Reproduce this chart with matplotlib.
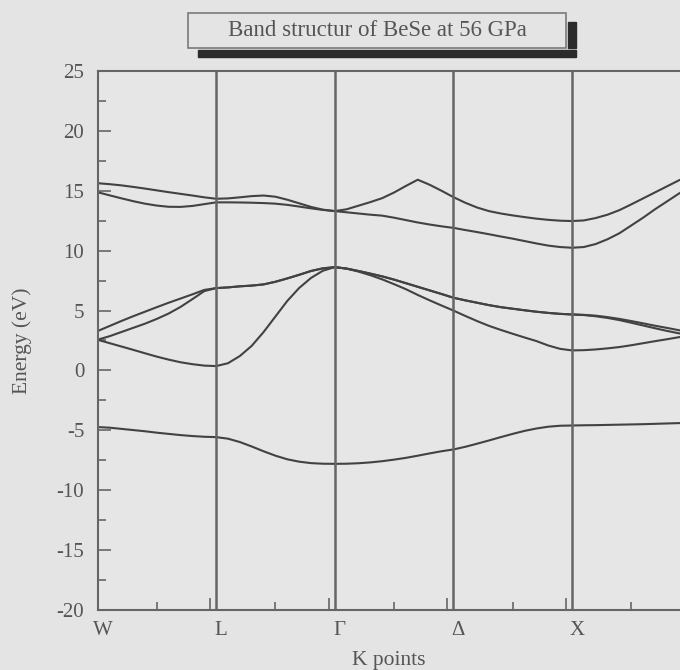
import numpy as np
import matplotlib
matplotlib.use("Agg")
import matplotlib.pyplot as plt
from matplotlib.patches import Rectangle
from matplotlib.transforms import ScaledTranslation

plt.rcParams['font.family'] = ['Liberation Serif', 'DejaVu Serif']
plt.rcParams['axes.unicode_minus'] = False

# k path: W=0, L=1, Gamma=2, Delta=3, X=4 (read every 0.1)
k = np.round(np.arange(0, 5.01, 0.1), 2)
kpoints = [0, 1, 2, 3, 4]
klabels = ['W', 'L', 'Γ', 'Δ', 'X']

# energies (eV)
band_s = [-4.73, -4.78, -4.88, -4.98, -5.08, -5.20, -5.30, -5.40, -5.48, -5.54,
          -5.57, -5.70, -5.98, -6.35, -6.75, -7.12, -7.42, -7.62, -7.74, -7.79,
          -7.80, -7.79, -7.75, -7.68, -7.58, -7.45, -7.30, -7.12, -6.93, -6.75,
          -6.60, -6.38, -6.12, -5.85, -5.57, -5.30, -5.05, -4.85, -4.70, -4.62,
          -4.60, -4.58, -4.57, -4.55, -4.53, -4.51, -4.49, -4.46, -4.43, -4.40, -4.38]

band_c = [2.56, 2.28, 2.00, 1.72, 1.43, 1.15, 0.90, 0.68, 0.52, 0.40,
          0.36, 0.60, 1.20, 2.05, 3.20, 4.50, 5.80, 6.88, 7.72, 8.32,
          8.62, 8.50, 8.25, 7.95, 7.60, 7.20, 6.78, 6.30, 5.85, 5.42,
          5.00, 4.55, 4.12, 3.72, 3.38, 3.06, 2.75, 2.45, 2.08, 1.80,
          1.67, 1.69, 1.75, 1.84, 1.95, 2.10, 2.27, 2.44, 2.60, 2.77, 2.93]

band_b = [2.56, 2.85, 3.20, 3.55, 3.90, 4.30, 4.75, 5.30, 5.95, 6.62,
          6.87, 6.93, 7.02, 7.08, 7.18, 7.40, 7.68, 7.98, 8.30, 8.52,
          8.62, 8.50, 8.30, 8.08, 7.85, 7.58, 7.28, 6.98, 6.68, 6.38,
          6.07, 5.85, 5.65, 5.45, 5.28, 5.15, 5.02, 4.90, 4.80, 4.72,
          4.67, 4.62, 4.52, 4.38, 4.20, 3.98, 3.75, 3.52, 3.30, 3.10, 2.90]

band_a = [3.28, 3.70, 4.12, 4.52, 4.90, 5.28, 5.65, 6.00, 6.35, 6.72,
          6.87, 6.93, 7.02, 7.08, 7.18, 7.40, 7.68, 7.98, 8.30, 8.52,
          8.62, 8.50, 8.30, 8.08, 7.85, 7.58, 7.28, 6.98, 6.68, 6.38,
          6.07, 5.85, 5.65, 5.45, 5.28, 5.15, 5.02, 4.90, 4.80, 4.72,
          4.67, 4.64, 4.57, 4.45, 4.30, 4.12, 3.93, 3.73, 3.55, 3.36, 3.18]

band_g = [14.88, 14.62, 14.37, 14.13, 13.92, 13.76, 13.66, 13.65, 13.73, 13.88,
          14.03, 14.03, 14.02, 14.00, 13.97, 13.92, 13.82, 13.68, 13.53, 13.40,
          13.30, 13.20, 13.10, 13.00, 12.92, 12.75, 12.55, 12.35, 12.18, 12.03,
          11.90, 11.72, 11.55, 11.37, 11.18, 11.00, 10.80, 10.60, 10.42, 10.30,
          10.24, 10.30, 10.55, 10.95, 11.45, 12.10, 12.75, 13.45, 14.10, 14.75, 15.35]

band_f = [15.63, 15.55, 15.45, 15.32, 15.18, 15.03, 14.88, 14.74, 14.60, 14.45,
          14.33, 14.36, 14.45, 14.55, 14.60, 14.50, 14.25, 13.95, 13.65, 13.42,
          13.30, 13.45, 13.75, 14.05, 14.38, 14.85, 15.40, 15.92, 15.50, 15.00,
          14.47, 14.00, 13.60, 13.30, 13.10, 12.94, 12.80, 12.67, 12.57, 12.50,
          12.47, 12.52, 12.72, 13.00, 13.38, 13.86, 14.36, 14.86, 15.36, 15.86, 16.30]

bands = [band_s, band_c, band_b, band_a, band_g, band_f]

bg = '#e4e4e4'
ink = '#424242'
txt = '#555555'

fig = plt.figure(figsize=(6.8, 6.7), dpi=100, facecolor=bg)
ax = fig.add_axes([0.1434, 0.0896, 0.8566, 0.8045])
ax.set_facecolor('#e6e6e6')

for b in bands:
    ax.plot(k, b, color=ink, lw=1.5, solid_joinstyle='round')

for kp in kpoints[1:]:
    ax.axvline(kp, color='#666666', lw=1.8)

ax.set_xlim(0, 4.911)
ax.set_ylim(-20, 25)

for s in ['left', 'bottom', 'top']:
    ax.spines[s].set_color('#666666')
    ax.spines[s].set_linewidth(1.5)
ax.spines['right'].set_visible(False)

ax.set_yticks(np.arange(-20, 26, 5))
ax.set_yticks(np.arange(-17.5, 25, 5), minor=True)
ax.set_xticks(kpoints)
ax.set_xticklabels(klabels)
ax.set_xticks([0.5, 1.5, 2.5, 3.5, 4.5], minor=True)
ax.tick_params(axis='y', which='major', direction='in', length=9, width=1.2,
               color='#666666', labelsize=15, labelcolor=txt, pad=9.5)
ax.tick_params(axis='y', which='minor', direction='in', length=6, width=1.2,
               color='#666666')
ax.tick_params(axis='x', which='major', direction='in', length=0,
               labelsize=15, labelcolor=txt, pad=8)
ax.tick_params(axis='x', which='minor', direction='in', length=6, width=1.2,
               color='#666666')
# the k labels sit a little right of their lines in the original
shift = ScaledTranslation(5 / 100, 0, fig.dpi_scale_trans)
for lab in ax.get_xticklabels():
    lab.set_transform(lab.get_transform() + shift)

# second row of taller ticks just left of each k point
ax2 = ax.twiny()
ax2.set_xlim(ax.get_xlim())
ax2.xaxis.set_ticks_position('bottom')
ax2.set_xticks([kp - 0.05 for kp in kpoints[1:]])
ax2.set_xticklabels([])
ax2.tick_params(axis='x', direction='in', length=9, width=1.2, color='#666666')
for s in ax2.spines.values():
    s.set_visible(False)

ax.set_xlabel('K points', fontsize=15.5, color=txt, labelpad=8)
ax.set_ylabel('Energy (eV)', fontsize=15.5, color=txt, labelpad=18)

# title box with a dark drop shadow
fig.patches.append(Rectangle((568 / 680, 1 - 48 / 670), 8 / 680, 26 / 670,
                             transform=fig.transFigure, color='#2b2b2b', zorder=1))
fig.patches.append(Rectangle((198 / 680, 1 - 57 / 670), 378 / 680, 7 / 670,
                             transform=fig.transFigure, color='#2b2b2b', zorder=1))
fig.patches.append(Rectangle((188 / 680, 1 - 48 / 670), 378 / 680, 35 / 670,
                             transform=fig.transFigure, facecolor=bg,
                             edgecolor='#7a7a7a', lw=1.2, zorder=2))
fig.text(377 / 680, 1 - 31 / 670, 'Band structur of BeSe at 56 GPa',
         ha='center', va='center', fontsize=16.5, color=txt, zorder=3)

fig.savefig('out.png', dpi=100, facecolor=bg)
